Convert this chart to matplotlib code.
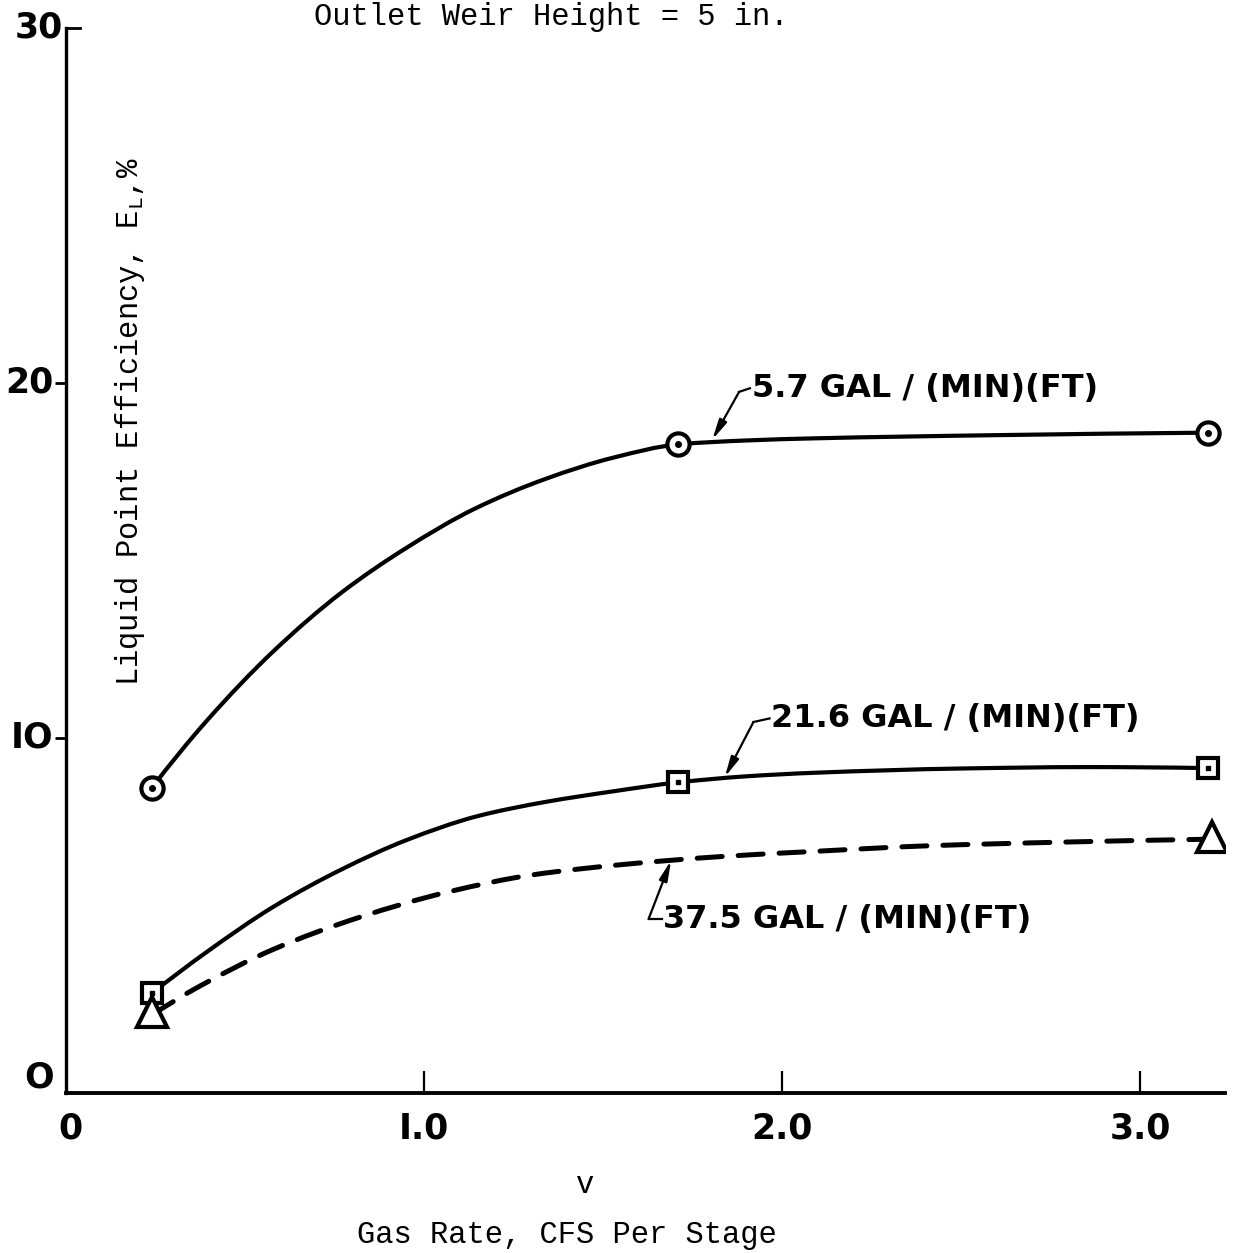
import matplotlib
matplotlib.use("Agg")
import matplotlib.pyplot as plt
import numpy as np
from matplotlib.path import Path
from matplotlib.patches import PathPatch

# ---- data ----
v_points = [0.24, 1.71, 3.19]
eff_57 = [8.6, 18.27, 18.6]
eff_216 = [2.81, 8.75, 9.15]
v_tri = [0.24, 3.20]
eff_375 = [2.28, 7.2]

# drawn curves
curve_57_v = [0.24, 0.39, 0.58, 0.77, 0.95, 1.14, 1.34, 1.53, 1.71, 1.90, 2.09, 2.6, 3.19]
curve_57_e = [8.6, 10.45, 12.45, 14.1, 15.35, 16.45, 17.3, 17.9, 18.27, 18.38, 18.44, 18.53, 18.6]
curve_216_v = [0.24, 0.39, 0.58, 0.77, 0.95, 1.15, 1.34, 1.53, 1.71, 1.90, 2.09, 2.5, 2.85, 3.19]
curve_216_e = [2.81, 3.95, 5.25, 6.3, 7.12, 7.8, 8.2, 8.5, 8.75, 8.92, 9.02, 9.14, 9.18, 9.15]
curve_375_v = [0.24, 0.37, 0.58, 0.82, 1.07, 1.30, 1.57, 1.83, 2.08, 2.4, 2.8, 3.2]
curve_375_e = [2.2, 2.99, 4.05, 4.95, 5.67, 6.14, 6.45, 6.66, 6.80, 6.96, 7.07, 7.15]

xtick_vals = [0, 1.0, 2.0, 3.0]
xtick_labels = ["0", "I.0", "2.0", "3.0"]
ytick_vals = [0, 10, 20, 30]
ytick_labels = ["O", "IO", "20", "30"]

labels = ["5.7 GAL / (MIN)(FT)", "21.6 GAL / (MIN)(FT)", "37.5 GAL / (MIN)(FT)"]

mono = "Liberation Mono"
plt.rcParams["mathtext.default"] = "regular"


def smooth_path(xs, ys):
    """Smooth (shape-preserving) Bezier path through the read points."""
    x = np.asarray(xs, float)
    y = np.asarray(ys, float)
    h = np.diff(x)
    d = np.diff(y) / h
    n = len(x)
    m = np.zeros(n)
    for i in range(1, n - 1):
        if d[i - 1] * d[i] <= 0:
            m[i] = 0.0
        else:
            w1 = 2 * h[i] + h[i - 1]
            w2 = h[i] + 2 * h[i - 1]
            m[i] = (w1 + w2) / (w1 / d[i - 1] + w2 / d[i])
    m[0] = ((2 * h[0] + h[1]) * d[0] - h[0] * d[1]) / (h[0] + h[1])
    if np.sign(m[0]) != np.sign(d[0]):
        m[0] = 0
    m[-1] = ((2 * h[-1] + h[-2]) * d[-1] - h[-1] * d[-2]) / (h[-1] + h[-2])
    if np.sign(m[-1]) != np.sign(d[-1]):
        m[-1] = 0
    verts = [(x[0], y[0])]
    codes = [Path.MOVETO]
    for i in range(n - 1):
        dx = h[i] / 3
        verts += [(x[i] + dx, y[i] + m[i] * dx),
                  (x[i + 1] - dx, y[i + 1] - m[i + 1] * dx),
                  (x[i + 1], y[i + 1])]
        codes += [Path.CURVE4] * 3
    return Path(verts, codes)


fig = plt.figure(figsize=(12.34, 12.53), dpi=100)
ax = fig.add_axes([0.0535, 0.1277, 0.9392, 0.85])
ax.set_xlim(0, 3.237)
ax.set_ylim(0, 30)

lw = 3.0
ax.add_patch(PathPatch(smooth_path(curve_57_v, curve_57_e), fill=False, ec="black",
                       lw=lw, capstyle="round", zorder=2))
ax.add_patch(PathPatch(smooth_path(curve_216_v, curve_216_e), fill=False, ec="black",
                       lw=lw, capstyle="round", zorder=2))
ax.add_patch(PathPatch(smooth_path(curve_375_v, curve_375_e), fill=False, ec="black",
                       lw=3.6, linestyle=(0, (5, 3.2)), capstyle="round", zorder=2))

# markers
ax.plot(v_points, eff_57, ls="none", marker="o", ms=16, mfc="white", mec="black", mew=3, zorder=3)
ax.plot(v_points, eff_57, ls="none", marker="o", ms=4, mfc="black", mec="black", zorder=4)
ax.plot(v_points, eff_216, ls="none", marker="s", ms=15, mfc="white", mec="black", mew=3, zorder=3)
ax.plot(v_points, eff_216, ls="none", marker="s", ms=3.5, mfc="black", mec="black", zorder=4)
ax.plot(v_tri, eff_375, ls="none", marker="^", ms=22, mfc="white", mec="black", mew=3, zorder=3)

# annotations
afont = dict(family="DejaVu Sans", weight="bold", size=23)
arrow = dict(arrowstyle="-|>,head_length=1.2,head_width=0.25", color="black", lw=1.6,
             shrinkA=0, shrinkB=0)
ax.annotate("", xy=(1.805, 18.4), xytext=(1.88, 19.75), arrowprops=arrow)
ax.plot([1.88, 1.91], [19.75, 19.85], color="black", lw=1.6)
ax.text(1.915, 19.85, labels[0], va="center", ha="left", **afont)

ax.annotate("", xy=(1.84, 8.9), xytext=(1.92, 10.45), arrowprops=arrow)
ax.plot([1.92, 1.965], [10.45, 10.55], color="black", lw=1.6)
ax.text(1.97, 10.55, labels[1], va="center", ha="left", **afont)

ax.annotate("", xy=(1.69, 6.55), xytext=(1.627, 4.9), arrowprops=arrow)
ax.plot([1.627, 1.665], [4.9, 4.9], color="black", lw=1.6)
ax.text(1.668, 4.9, labels[2], va="center", ha="left", **afont)

# axes styling
for s in ["top", "right"]:
    ax.spines[s].set_visible(False)
ax.spines["left"].set_linewidth(2.4)
ax.spines["bottom"].set_linewidth(2.8)

ax.set_xticks(xtick_vals[1:])
ax.set_xticklabels([])
ax.tick_params(axis="x", direction="in", length=16, width=1.6, pad=0)
ax.set_yticks(ytick_vals[1:3])
ax.set_yticklabels([])
ax.tick_params(axis="y", direction="out", length=8, width=2.0)
# top tick at 30 points to the right
ax.plot([0, 0.04], [30, 30], color="black", lw=2.0, clip_on=False)

tfont = dict(family="DejaVu Sans", weight="bold", size=25)
for xv, lab in zip(xtick_vals, xtick_labels):
    ax.text(xv if xv > 0 else 0.012, -1.0, lab, ha="center", va="center", **tfont)
for yv, lab in zip(ytick_vals, ytick_labels):
    ax.text(-0.01 if yv == 30 else -0.035, yv + (0.45 if yv == 0 else 0.0), lab,
            ha="right", va="center", **tfont)

ax.text(0.18, 18.9, "Liquid Point Efficiency, E$_{L}$,%", rotation=90, ha="center",
        va="center", family=mono, size=22)
fig.text(0.447, 0.9985, "Outlet Weir Height = 5 in.", ha="center", va="top",
         family=mono, size=22)
fig.text(0.474, 0.054, "v", ha="center", va="center", family=mono, size=22)
fig.text(0.459, 0.014, "Gas Rate, CFS Per Stage", ha="center", va="center",
         family=mono, size=22)

fig.savefig("out.png", dpi=100)
